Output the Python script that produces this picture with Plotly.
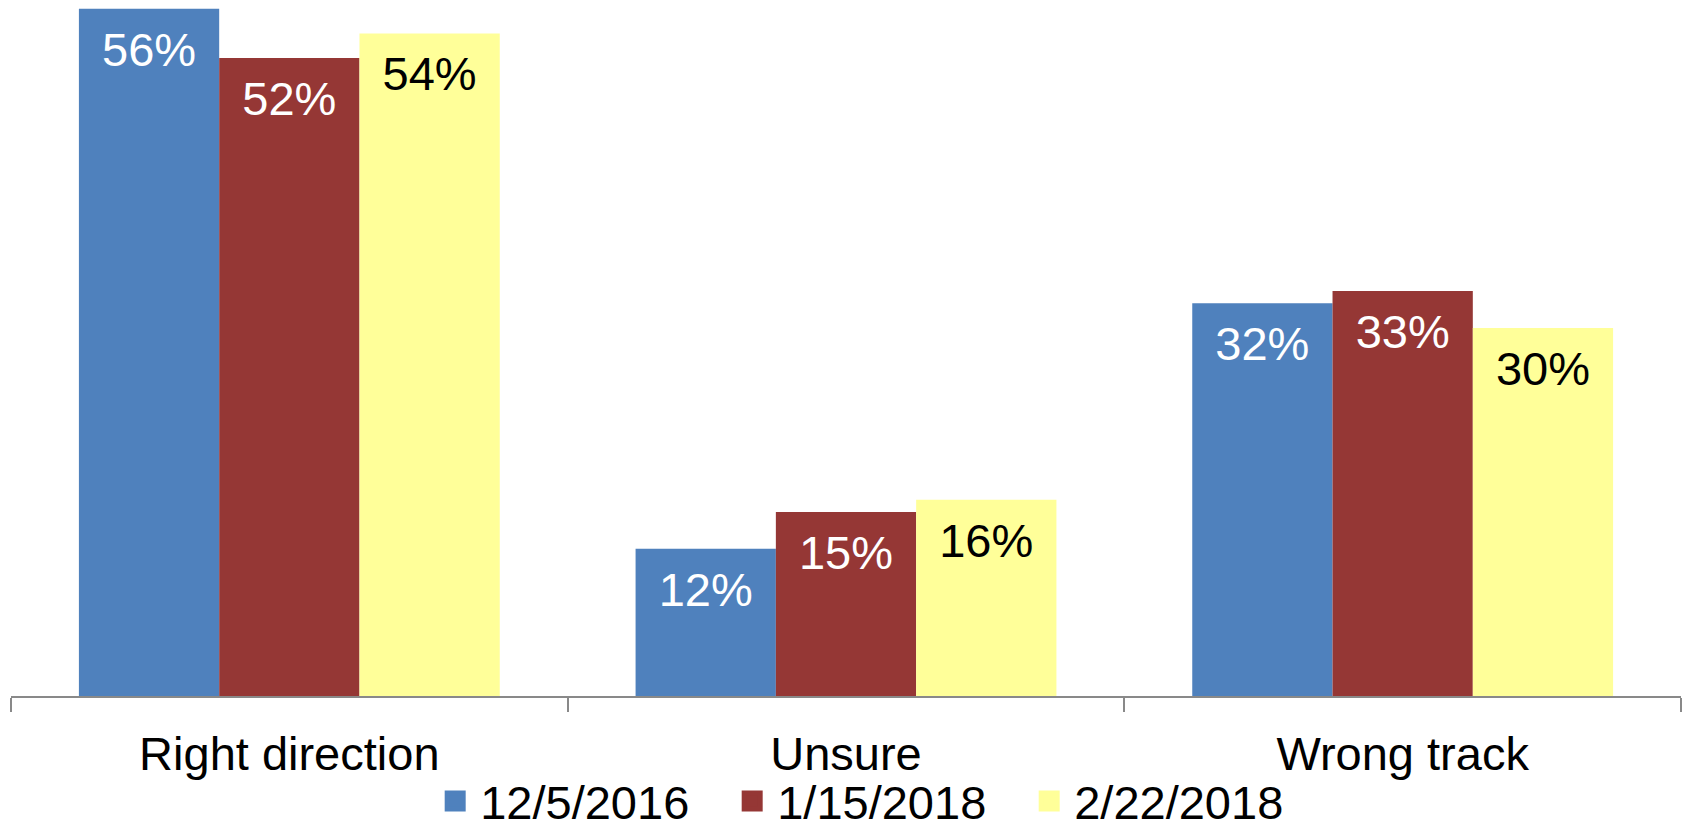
import plotly.graph_objects as go

categories = ["Right direction", "Unsure", "Wrong track"]
series_names = ["12/5/2016", "1/15/2018", "2/22/2018"]
vals_2016_12_05 = [0.56, 0.12, 0.32]
vals_2018_01_15 = [0.52, 0.15, 0.33]
vals_2018_02_22 = [0.54, 0.16, 0.30]
series_values = [vals_2016_12_05, vals_2018_01_15, vals_2018_02_22]

colors = ["#4F81BD", "#953735", "#FFFF99"]
label_colors = ["white", "white", "black"]
FONT = "Liberation Sans, Arial, sans-serif"

fig = go.Figure()
for i, (name, vals, c, lc) in enumerate(zip(series_names, series_values, colors, label_colors)):
    fig.add_trace(go.Bar(
        x=categories, y=vals, name=name,
        marker=dict(color=c, line=dict(width=0)),
        offsetgroup=str(i), showlegend=False, hoverinfo="skip",
    ))
for i, (name, vals, c, lc) in enumerate(zip(series_names, series_values, colors, label_colors)):
    # data labels, grouped like the bars
    fig.add_trace(go.Scatter(
        x=categories, y=vals, mode="markers+text",
        marker=dict(size=33, opacity=0, color=c),
        text=[f"{round(v*100)}%" for v in vals],
        textposition="bottom center",
        textfont=dict(family=FONT, size=47, color=lc),
        offsetgroup=str(i), showlegend=False, hoverinfo="skip", cliponaxis=False,
    ))
for name, c in zip(series_names, colors):
    # legend entries
    fig.add_trace(go.Scatter(
        x=[None], y=[None], mode="markers", name=name,
        marker=dict(symbol="square", size=16, color=c, line=dict(color=c, width=5)),
    ))

fig.update_layout(
    width=1684, height=821,
    margin=dict(l=11, r=3, t=0, b=125, autoexpand=False),
    paper_bgcolor="white", plot_bgcolor="white",
    barmode="group", bargap=0.244, bargroupgap=0,
    scattermode="group", scattergap=0.244,
    showlegend=True,
    legend=dict(orientation="h", x=0.520, xanchor="center", xref="container",
                yref="paper", y=-0.0975, yanchor="top",
                bgcolor="rgba(0,0,0,0)",
                itemwidth=40, entrywidth=242, entrywidthmode="pixels",
                font=dict(family=FONT, size=47, color="black"),
                traceorder="normal", itemclick=False),
    font=dict(family=FONT),
)
fig.update_xaxes(
    showline=True, linecolor="#898989", linewidth=2,
    ticks="outside", tickson="boundaries", ticklen=14, tickcolor="#898989", tickwidth=2,
    ticklabelstandoff=16, automargin=False,
    tickfont=dict(family=FONT, size=47, color="black"),
    showgrid=False, zeroline=False,
)
fig.update_yaxes(range=[0, 0.5672], visible=False, showgrid=False, zeroline=False, automargin=False)

fig.write_html("out.html", config={"displayModeBar": False},
               post_script="document.body.style.margin='0';document.body.style.overflow='hidden';")
